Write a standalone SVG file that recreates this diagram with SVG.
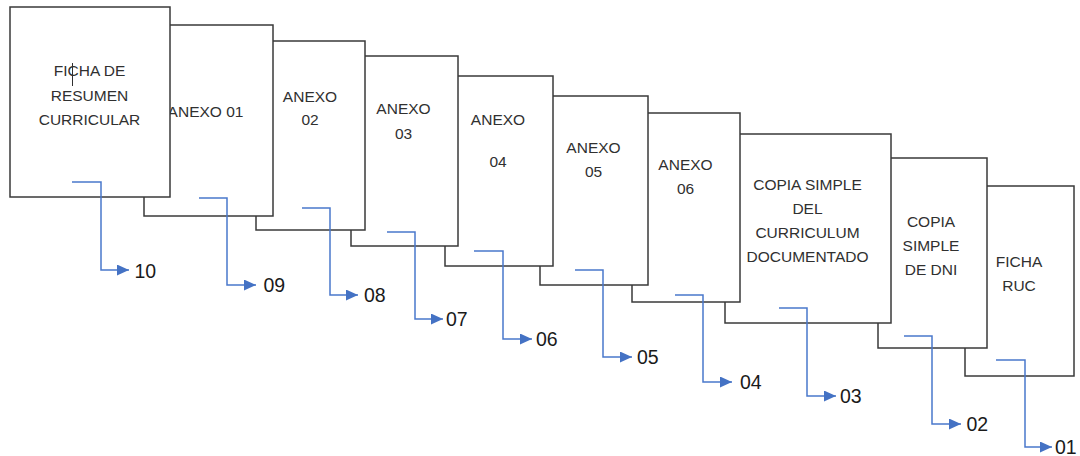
<svg xmlns="http://www.w3.org/2000/svg" width="1080" height="456" viewBox="0 0 1080 456">
<style>
.page{fill:#ffffff;stroke:#3a3a3a;stroke-width:1.5}
.t{font-family:"Liberation Sans",Arial,sans-serif;font-size:15.5px;fill:#303030;text-anchor:middle}
.n{font-family:"Liberation Sans",Arial,sans-serif;font-size:19.5px;fill:#1a1a1a}
.c{fill:none;stroke:#4a78cc;stroke-width:1.5;marker-end:url(#ah)}
</style>
<defs>
<marker id="ah" markerUnits="userSpaceOnUse" markerWidth="13" markerHeight="12" refX="12" refY="5.5" orient="auto">
<path d="M0,0 L12,5.5 L0,11 Z" fill="#4472c4"/>
</marker>
</defs>
<rect width="1080" height="456" fill="#ffffff"/>
<g id="p10"><rect class="page" x="965" y="186" width="109" height="190"/><text class="t" x="1019" y="266.5">FICHA</text><text class="t" x="1019" y="290.5">RUC</text></g>
<g id="p9"><rect class="page" x="878" y="158" width="109" height="190"/><text class="t" x="931" y="226.5">COPIA</text><text class="t" x="931" y="251">SIMPLE</text><text class="t" x="931" y="275">DE DNI</text></g>
<g id="p8"><rect class="page" x="725" y="134" width="166" height="189"/><text class="t" x="807.5" y="190">COPIA SIMPLE</text><text class="t" x="807.5" y="214">DEL</text><text class="t" x="807.5" y="238">CURRICULUM</text><text class="t" x="807.5" y="262">DOCUMENTADO</text></g>
<g id="p7"><rect class="page" x="632" y="113" width="108" height="189"/><text class="t" x="685.5" y="170">ANEXO</text><text class="t" x="685.5" y="194">06</text></g>
<g id="p6"><rect class="page" x="540" y="96" width="108" height="189"/><text class="t" x="593.5" y="153">ANEXO</text><text class="t" x="593.5" y="177">05</text></g>
<g id="p5"><rect class="page" x="445" y="76" width="108" height="190"/><text class="t" x="498" y="125">ANEXO</text><text class="t" x="498" y="166.5">04</text></g>
<g id="p4"><rect class="page" x="351" y="56" width="107" height="190"/><text class="t" x="403.5" y="114">ANEXO</text><text class="t" x="403.5" y="138.5">03</text></g>
<g id="p3"><rect class="page" x="256" y="41" width="109" height="189"/><text class="t" x="310" y="101.5">ANEXO</text><text class="t" x="310" y="125">02</text></g>
<g id="p2"><rect class="page" x="144" y="25" width="129" height="191"/><text class="t" x="205.5" y="117">ANEXO 01</text></g>
<g id="p1"><rect class="page" x="10" y="7" width="160" height="190"/><text class="t" x="89.5" y="76">FICHA DE</text><text class="t" x="89.5" y="100.5">RESUMEN</text><text class="t" x="89.5" y="125">CURRICULAR</text><line x1="72.5" y1="63" x2="72.5" y2="86" stroke="#303030" stroke-width="1"/></g>
<g id="connectors">
<polyline class="c" points="72,182 101,182 101,270 129,270"/>
<polyline class="c" points="199,198 227,198 227,285 256,285"/>
<polyline class="c" points="302,208 330,208 330,295 358,295"/>
<polyline class="c" points="387,232 415,232 415,319 443,319"/>
<polyline class="c" points="474,251 503,251 503,339 532,339"/>
<polyline class="c" points="575,270 603,270 603,357 632,357"/>
<polyline class="c" points="675,295 703,295 703,382 732,382"/>
<polyline class="c" points="779,308 807,308 807,396 836,396"/>
<polyline class="c" points="904,336 932,336 932,424 961,424"/>
<polyline class="c" points="996,360 1025,360 1025,447 1052,447"/>
</g>
<g id="labels">
<text class="n" x="134.5" y="277.5">10</text>
<text class="n" x="263.5" y="292">09</text>
<text class="n" x="364" y="302">08</text>
<text class="n" x="446" y="326">07</text>
<text class="n" x="536" y="346">06</text>
<text class="n" x="637" y="364">05</text>
<text class="n" x="740" y="389">04</text>
<text class="n" x="840" y="403">03</text>
<text class="n" x="966.5" y="431">02</text>
<text class="n" x="1055" y="454">01</text>
</g>
</svg>
